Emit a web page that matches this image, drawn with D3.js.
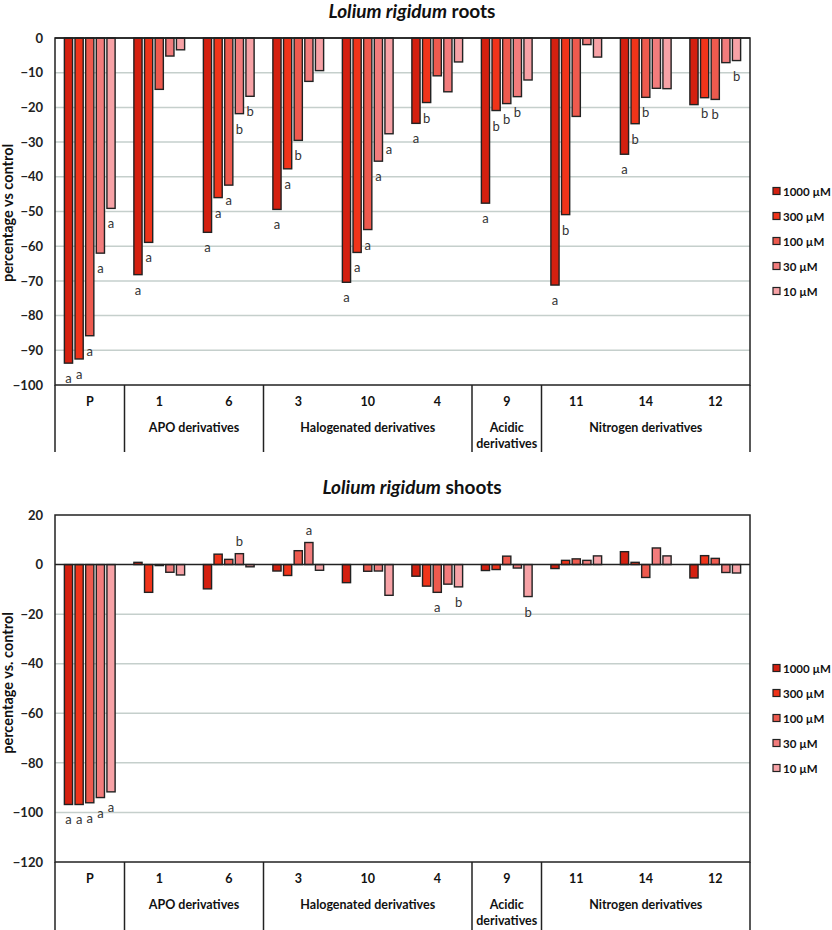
<!DOCTYPE html>
<html>
<head>
<meta charset="utf-8">
<script src="https://cdn.jsdelivr.net/npm/d3@7"></script>
<style>
  body { margin: 0; background: #fff; }
  svg text { font-family: Lato, "Open Sans", sans-serif; }
</style>
</head>
<body>
<div id="chart"></div>
<script>
// compounds along the x axis
const compounds = ['P', '1', '6', '3', '10', '4', '9', '11', '14', '12'];
const concentrations = ['1000 µM', '300 µM', '100 µM', '30 µM', '10 µM'];
const colors = ['#d42010', '#f0341a', '#ee5a4e', '#f27c7c', '#f7a2a6'];

// groups of compounds: [label lines, first index, last index]
const groups = [
  [[''], 0, 0],
  [['APO derivatives'], 1, 2],
  [['Halogenated derivatives'], 3, 5],
  [['Acidic', 'derivatives'], 6, 6],
  [['Nitrogen derivatives'], 7, 9]
];

// roots, one array per concentration (same order as compounds)
const roots1000 = [-93.7, -68.2, -56.0, -49.4, -70.4, -24.6, -47.6, -71.2, -33.5, -19.2];
const roots300  = [-92.5, -58.9, -46.0, -37.7, -61.8, -18.6, -20.9, -50.9, -24.7, -17.2];
const roots100  = [-85.8, -14.8, -42.4, -29.5, -55.2, -10.9, -18.9, -22.6, -17.1, -17.7];
const roots30   = [-62.0, -5.2, -21.8, -12.5, -35.5, -15.5, -16.9, -1.9, -14.5, -7.1];
const roots10   = [-49.1, -3.4, -16.8, -9.4, -27.6, -6.9, -12.1, -5.5, -14.6, -6.5];

// letters per compound, in concentration order
const rootsLetters = [
  ['a', 'a', 'a', 'a', 'a'],
  ['a', 'a', '', '', ''],
  ['a', 'a', 'a', 'b', 'b'],
  ['a', 'a', 'b', '', ''],
  ['a', 'a', 'a', 'a', 'a'],
  ['a', 'b', '', '', ''],
  ['a', 'b', 'b', 'b', ''],
  ['a', 'b', '', '', ''],
  ['a', 'b', 'b', '', ''],
  ['', 'b', 'b', '', 'b']
];

// shoots
const shoots1000 = [-96.8, 0.9, -9.8, -2.6, -7.3, -4.7, -2.4, -1.6, 5.2, -5.4];
const shoots300  = [-96.8, -11.2, 4.2, -4.4, 0, -8.7, -2.0, 1.7, 0.9, 3.6];
const shoots100  = [-96.1, -0.4, 2.1, 5.6, -2.7, -11.2, 3.4, 2.3, -5.2, 2.5];
const shoots30   = [-94.0, -3.1, 4.4, 8.9, -2.6, -7.9, -1.4, 1.7, 6.7, -3.2];
const shoots10   = [-91.7, -4.2, -0.9, -2.3, -12.4, -9.0, -12.9, 3.5, 3.5, -3.4];

const shootsLetters = [
  ['a', 'a', 'a', 'a', 'a'],
  ['', '', '', '', ''],
  ['', '', '', 'b', ''],
  ['', '', '', 'a', ''],
  ['', '', '', '', ''],
  ['', '', 'a', '', 'b'],
  ['', '', '', '', 'b'],
  ['', '', '', '', ''],
  ['', '', '', '', ''],
  ['', '', '', '', '']
];

const rootsTicks = [0, -10, -20, -30, -40, -50, -60, -70, -80, -90, -100];
const shootsTicks = [20, 0, -20, -40, -60, -80, -100, -120];

let svg = d3.select('#chart')
  .append('svg')
    .attr('width', 832)
    .attr('height', 930);

let left = 55, right = 750;

function drawPanel(p) {
  let g = svg.append('g');

  let x = d3.scaleBand().domain(compounds).range([left, right]).padding(0);
  let xIn = d3.scaleBand().domain(concentrations)
    .range([x.bandwidth() * 0.135, x.bandwidth() * 0.865])
    .paddingInner(0.23);
  let y = d3.scaleLinear().domain(p.domain).range([p.bottom, p.top]);

  // title
  let t = g.append('text')
    .attr('x', 412).attr('y', p.titleY)
    .attr('text-anchor', 'middle')
    .attr('fill', '#111')
    .style('font-size', '19px').style('font-weight', 'bold');
  t.append('tspan').style('font-style', 'italic').text('Lolium rigidum');
  t.append('tspan').text(' ' + p.part);

  // grid
  g.append('g').selectAll('line')
    .data(p.ticks.filter(d => d != 0 && d != p.domain[0] && d != p.domain[1]))
    .enter().append('line')
      .attr('x1', left).attr('x2', right)
      .attr('y1', d => y(d)).attr('y2', d => y(d))
      .attr('stroke', '#c5cfcc').attr('stroke-width', 1.5);

  // y axis
  let ax = g.append('g')
    .attr('transform', 'translate(' + left + ',0)')
    .call(d3.axisLeft(y).tickValues(p.ticks).tickSize(0).tickPadding(12).tickFormat(d3.format('d')));
  ax.select('.domain').remove();
  ax.selectAll('text')
    .style('font-family', 'Lato, sans-serif')
    .style('font-size', '13px').style('font-weight', 'bold').attr('fill', '#222');

  g.append('text')
    .attr('transform', 'translate(13,' + p.labelY + ') rotate(-90)')
    .attr('text-anchor', 'middle')
    .attr('fill', '#111')
    .style('font-size', '14.5px').style('font-weight', 'bold')
    .text(p.ylabel);

  // bars
  p.series.forEach(function(vals, k) {
    let c = concentrations[k];
    g.append('g').selectAll('rect')
      .data(vals)
      .enter().append('rect')
        .attr('x', (d, i) => x(compounds[i]) + xIn(c))
        .attr('width', xIn.bandwidth())
        .attr('y', d => y(Math.max(0, d)))
        .attr('height', d => Math.abs(y(d) - y(0)))
        .attr('fill', colors[k])
        .attr('stroke', '#222').attr('stroke-width', 1.4);

    g.append('g').selectAll('text')
      .data(vals)
      .enter().append('text')
        .attr('x', (d, i) => x(compounds[i]) + xIn(c) + xIn.bandwidth() / 2)
        .attr('y', d => d < 0 ? y(d) + 20 : y(d) - 8)
        .attr('text-anchor', 'middle')
        .style('font-size', '13px').attr('fill', '#333')
        .text((d, i) => p.letters[i][k]);
  });

  // frame
  g.append('rect')
    .attr('x', left).attr('y', p.top)
    .attr('width', right - left).attr('height', p.bottom - p.top)
    .attr('fill', 'none').attr('stroke', '#222').attr('stroke-width', 1.5);
  g.append('line')
    .attr('x1', left).attr('x2', right)
    .attr('y1', y(0)).attr('y2', y(0))
    .attr('stroke', '#222').attr('stroke-width', 1.5);

  // category area
  let edges = [left].concat(groups.map(d => x(compounds[d[2]]) + x.bandwidth()));
  g.append('g').selectAll('line')
    .data(edges)
    .enter().append('line')
      .attr('x1', d => d).attr('x2', d => d)
      .attr('y1', p.bottom).attr('y2', p.catBottom)
      .attr('stroke', '#222').attr('stroke-width', 1.5);

  g.append('g').selectAll('text')
    .data(compounds)
    .enter().append('text')
      .attr('x', d => x(d) + x.bandwidth() / 2)
      .attr('y', p.bottom + 21)
      .attr('text-anchor', 'middle')
      .attr('fill', '#111')
      .style('font-size', '12.5px').style('font-weight', 'bold')
      .text(d => d);

  groups.forEach(function(gr) {
    let cx = (x(compounds[gr[1]]) + x(compounds[gr[2]]) + x.bandwidth()) / 2;
    gr[0].forEach(function(line, j) {
      g.append('text')
        .attr('x', cx).attr('y', p.bottom + 47 + j * 16)
        .attr('text-anchor', 'middle')
        .attr('fill', '#111')
        .style('font-size', '12.5px').style('font-weight', 'bold')
        .text(line);
    });
  });

  // legend
  concentrations.forEach(function(c, k) {
    let ly = p.legendY + k * 25;
    g.append('rect')
      .attr('x', 773).attr('y', ly - 3.5)
      .attr('width', 7).attr('height', 7)
      .attr('fill', colors[k]).attr('stroke', '#222').attr('stroke-width', 1.2);
    g.append('text')
      .attr('x', 783).attr('y', ly + 4.5)
      .attr('fill', '#111')
      .style('font-size', '11.5px').style('font-weight', 'bold')
      .text(c);
  });
}

drawPanel({
  part: 'roots', titleY: 18,
  top: 38, bottom: 385, catBottom: 452,
  domain: [-100, 0], ticks: rootsTicks,
  ylabel: 'percentage vs control', labelY: 213,
  series: [roots1000, roots300, roots100, roots30, roots10],
  letters: rootsLetters,
  legendY: 191
});

drawPanel({
  part: 'shoots', titleY: 494,
  top: 515, bottom: 862, catBottom: 931,
  domain: [-120, 20], ticks: shootsTicks,
  ylabel: 'percentage vs. control', labelY: 683,
  series: [shoots1000, shoots300, shoots100, shoots30, shoots10],
  letters: shootsLetters,
  legendY: 668
});
</script>
</body>
</html>
